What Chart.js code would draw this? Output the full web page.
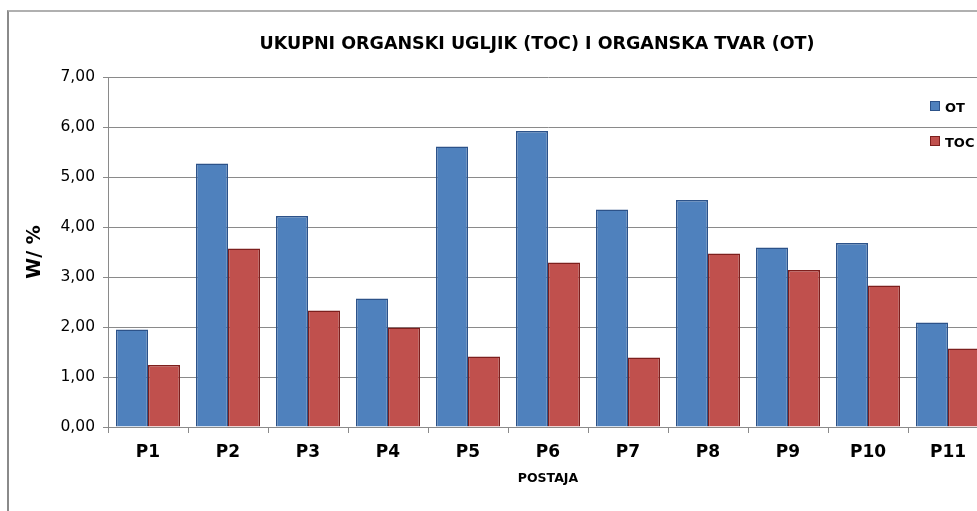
<!DOCTYPE html>
<html>
<head>
<meta charset="utf-8">
<script src="https://cdn.jsdelivr.net/npm/chart.js@4"></script>
<style>
  html, body { margin: 0; padding: 0; background: #fff; overflow: hidden; }
  #wrap { position: relative; width: 977px; height: 511px; overflow: hidden; }
  #frame { position: absolute; left: 7px; top: 10px; width: 1200px; height: 600px;
           border-left: 2px solid #8a8a8a; border-top: 2px solid #b0b0b0; }
  #box { position: absolute; left: 0; top: 0; width: 1074px; height: 511px; }
  .leg { position: absolute; left: 930px; font: bold 13px "DejaVu Sans", sans-serif; color: #000; }
  .leg span { display: inline-block; width: 8px; height: 8px; margin-right: 5px; vertical-align: 1px; }
</style>
</head>
<body>
<div id="wrap">
  <div id="frame"></div>
  <div id="box"><canvas id="toc" width="1074" height="511"></canvas></div>
  <div class="leg" style="top:100px"><span style="background:#4f81bd;border:1px solid #2c5289"></span>OT</div>
  <div class="leg" style="top:135px"><span style="background:#c0504d;border:1px solid #7d1f1d"></span>TOC</div>
</div>
<script>
let postaje = ["P1", "P2", "P3", "P4", "P5", "P6", "P7", "P8", "P9", "P10", "P11"];
let otData = [1.95, 5.27, 4.22, 2.57, 5.61, 5.92, 4.35, 4.54, 3.59, 3.68, 2.09];
let tocData = [1.24, 3.57, 2.33, 1.99, 1.41, 3.29, 1.39, 3.47, 3.14, 2.83, 1.57];

new Chart(document.getElementById('toc'), {
    type: 'bar',
    data: {
        labels: postaje,
        datasets: [{
            label: 'OT',
            data: otData,
            backgroundColor: '#4f81bd',
            borderColor: '#2c5289',
            borderWidth: 1.5,
            categoryPercentage: 0.8,
            barPercentage: 1.0
        }, {
            label: 'TOC',
            data: tocData,
            backgroundColor: '#c0504d',
            borderColor: '#7d1f1d',
            borderWidth: 1.5,
            categoryPercentage: 0.8,
            barPercentage: 1.0
        }]
    },
    options: {
        responsive: false,
        animation: false,
        devicePixelRatio: 1,
        layout: { padding: 0 },
        plugins: {
            legend: { display: false },
            tooltip: { enabled: false },
            title: {
                display: true,
                text: 'UKUPNI ORGANSKI UGLJIK (TOC) I ORGANSKA TVAR (OT)',
                color: '#000',
                font: { family: 'DejaVu Sans', size: 17.5, weight: 'bold', lineHeight: 1.2 },
                padding: { top: 34, bottom: 22 }
            }
        },
        scales: {
            x: {
                grid: { drawOnChartArea: false, drawTicks: true, tickLength: 6, color: '#8a8a8a' },
                border: { color: '#8a8a8a', width: 1 },
                ticks: { color: '#000', padding: 9, maxRotation: 0, font: { family: 'DejaVu Sans', size: 17, weight: 'bold' } },
                title: {
                    display: true,
                    text: 'POSTAJA',
                    color: '#000',
                    font: { family: 'DejaVu Sans', size: 12.5, weight: 'bold' },
                    padding: { top: 4, bottom: 25 }
                },
                afterFit: function(scale) { scale.height = 84; }
            },
            y: {
                min: 0,
                max: 7,
                ticks: {
                    stepSize: 1,
                    color: '#000',
                    padding: 8,
                    font: { family: 'DejaVu Sans', size: 15.5 },
                    callback: function(v) { return v.toFixed(2).replace('.', ','); }
                },
                grid: { color: '#8a8a8a', tickLength: 5 },
                border: { color: '#8a8a8a', width: 1 },
                title: {
                    display: true,
                    text: 'W/ %',
                    color: '#000',
                    font: { family: 'DejaVu Sans', size: 19, weight: 'bold' },
                    padding: { top: 24 }
                },
                afterFit: function(scale) { scale.width = 108; }
            },
            y2: {
                position: 'right',
                grid: { display: false },
                ticks: { display: false },
                border: { display: false },
                afterFit: function(scale) { scale.width = 86; }
            }
        }
    }
});
</script>
</body>
</html>
